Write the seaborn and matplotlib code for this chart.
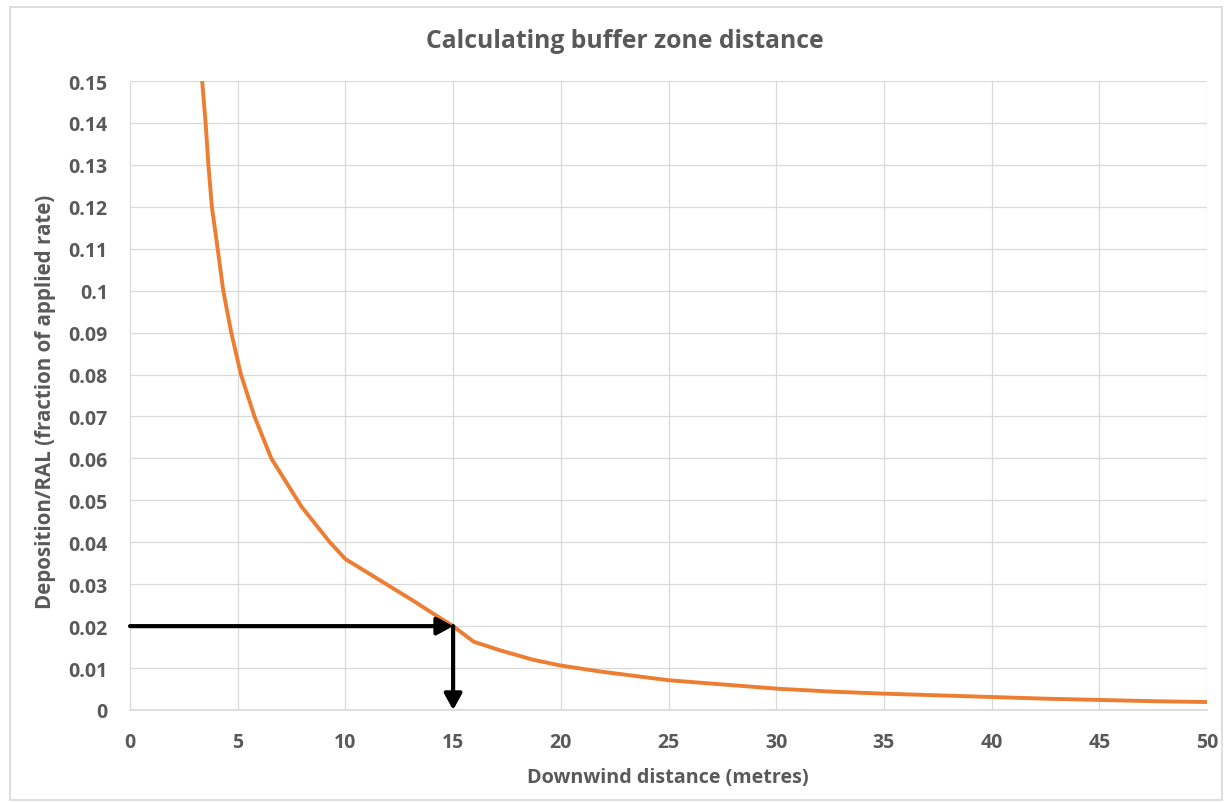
import matplotlib
matplotlib.use("Agg")
import matplotlib.pyplot as plt
import seaborn as sns
import pandas as pd
from matplotlib.patches import Rectangle

# Values
distance = [3.35, 3.51, 3.64, 3.8, 4.07, 4.33, 4.7, 5.15, 5.78, 6.56, 7.34,
            7.96, 9.28, 10.0, 11.9, 13.2, 14.1, 15.0, 15.95, 17.2, 18.7, 20.0,
            21.8, 25.0, 27.5, 30.0, 32.5, 35.0, 37.5, 40.0, 42.5, 45.0, 47.5,
            50.0]
deposition = [0.150, 0.140, 0.130, 0.120, 0.110, 0.100, 0.090, 0.080, 0.070,
              0.060, 0.0536, 0.0485, 0.040, 0.036, 0.030, 0.0259, 0.0229,
              0.020, 0.0163, 0.0142, 0.012, 0.0106, 0.0092, 0.0071, 0.0061,
              0.0051, 0.0044, 0.0039, 0.0035, 0.0031, 0.0027, 0.0024, 0.0021,
              0.0019]

buffer_distance = 15
target_deposition = 0.02

x_ticks = list(range(0, 51, 5))
y_ticks = [i / 100 for i in range(0, 16)]
y_labels = ["0"] + ["%g" % v for v in y_ticks[1:]]

df = pd.DataFrame({"distance": distance, "deposition": deposition})

sns.set_theme(style="whitegrid")
plt.rcParams["font.family"] = ["Open Sans", "DejaVu Sans"]

grey_text = "#595959"
fig = plt.figure(figsize=(12.24, 8.03), dpi=100)
ax = fig.add_axes([130 / 1224, 1 - 711 / 803, 1077 / 1224, 629 / 803])

sns.lineplot(data=df, x="distance", y="deposition", ax=ax,
             color="#ED7D31", linewidth=2.8)

# arrows showing the read-off
arrow_kw = dict(arrowstyle="-|>,head_length=0.4,head_width=0.22", color="black",
                lw=3.0, mutation_scale=24, shrinkA=0, shrinkB=0)
ax.annotate("", xy=(buffer_distance, target_deposition), xytext=(0, target_deposition),
            arrowprops=arrow_kw)
ax.annotate("", xy=(buffer_distance, 0), xytext=(buffer_distance, target_deposition),
            arrowprops=arrow_kw)

ax.set_xlim(0, 50)
ax.set_ylim(0, 0.15)
ax.set_xticks(x_ticks)
ax.set_yticks(y_ticks)
ax.set_yticklabels(y_labels)
ax.grid(True, color="#d9d9d9", linewidth=0.9)
for s in ["top", "right", "left"]:
    ax.spines[s].set_visible(False)
ax.spines["bottom"].set_color("#d9d9d9")
ax.tick_params(axis="both", length=0, labelsize=14, labelcolor=grey_text)
ax.tick_params(axis="x", pad=16)
ax.tick_params(axis="y", pad=16)
for lbl in ax.get_xticklabels() + ax.get_yticklabels():
    lbl.set_fontweight("bold")

ax.set_xlabel("Downwind distance (metres)", fontsize=14.2, fontweight="bold",
              color=grey_text)
ax.set_ylabel("Deposition/RAL (fraction of applied rate)", fontsize=14.8,
              fontweight="bold", color=grey_text)
ax.xaxis.set_label_coords(0.4995, -0.091)
ax.yaxis.set_label_coords(-0.069, 0.491)
fig.text(625 / 1224, 1 - 42 / 803, "Calculating buffer zone distance",
         ha="center", va="center", fontsize=17.8, fontweight="bold", color=grey_text)

# chart area border
fig.add_artist(Rectangle((10 / 1224, 0.002), 1 - 12 / 1224, 1 - 8 / 803 - 0.002,
                         transform=fig.transFigure, fill=False,
                         edgecolor="#d9d9d9", linewidth=1.2))

fig.savefig("out.png", dpi=100)
